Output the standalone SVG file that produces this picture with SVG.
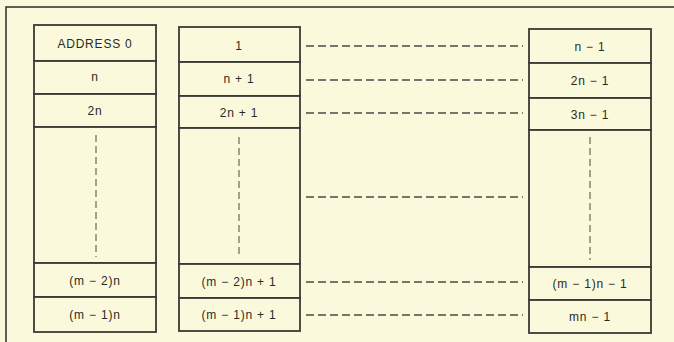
<svg xmlns="http://www.w3.org/2000/svg" width="674" height="342" viewBox="0 0 674 342">
<style>
.bg{fill:#fbf9dc}
.cell{fill:#fbf9dc;stroke:#3a3a36;stroke-width:1.8}
.frame{fill:none;stroke:#3a3a36;stroke-width:1.6}
.vd{stroke:#4a4a44;stroke-width:1;stroke-dasharray:7,4;fill:none}
.hd{stroke:#4a4a44;stroke-width:1.4;stroke-dasharray:8,4;fill:none}
text{font-family:"Liberation Sans",Arial,sans-serif;font-size:12px;letter-spacing:0.8px;fill:#2a2a26;text-anchor:middle}
</style>
<rect class="bg" x="0" y="0" width="674" height="342"/>
<rect class="frame" x="6" y="7" width="680" height="345"/>
<g id="col1">
<rect class="cell" x="34" y="25" width="122" height="36"/>
<text x="95" y="48">ADDRESS 0</text>
<rect class="cell" x="34" y="61" width="122" height="33"/>
<text x="95" y="81">n</text>
<rect class="cell" x="34" y="94" width="122" height="33"/>
<text x="95" y="115">2n</text>
<rect class="cell" x="34" y="127" width="122" height="136"/>
<line class="vd" x1="96" y1="135" x2="96" y2="257"/>
<rect class="cell" x="34" y="263" width="122" height="34"/>
<text x="95" y="285">(m − 2)n</text>
<rect class="cell" x="34" y="297" width="122" height="35"/>
<text x="95" y="319">(m − 1)n</text>
</g>
<g id="col2">
<rect class="cell" x="179" y="27" width="121" height="35"/>
<text x="239" y="50">1</text>
<rect class="cell" x="179" y="62" width="121" height="34"/>
<text x="239" y="83">n + 1</text>
<rect class="cell" x="179" y="96" width="121" height="32"/>
<text x="239" y="117">2n + 1</text>
<rect class="cell" x="179" y="128" width="121" height="136"/>
<line class="vd" x1="239" y1="137" x2="239" y2="258"/>
<rect class="cell" x="179" y="264" width="121" height="34"/>
<text x="239" y="286">(m − 2)n + 1</text>
<rect class="cell" x="179" y="298" width="121" height="33"/>
<text x="239" y="319">(m − 1)n + 1</text>
</g>
<g id="col3">
<rect class="cell" x="529" y="29" width="122" height="34"/>
<text x="590" y="51">n − 1</text>
<rect class="cell" x="529" y="63" width="122" height="35"/>
<text x="590" y="85">2n − 1</text>
<rect class="cell" x="529" y="98" width="122" height="32"/>
<text x="590" y="119">3n − 1</text>
<rect class="cell" x="529" y="130" width="122" height="137"/>
<line class="vd" x1="590" y1="137" x2="590" y2="260"/>
<rect class="cell" x="529" y="267" width="122" height="33"/>
<text x="590" y="288">(m − 1)n − 1</text>
<rect class="cell" x="529" y="300" width="122" height="33"/>
<text x="590" y="321">mn − 1</text>
</g>
<g id="connectors">
<line class="hd" x1="306" y1="46" x2="523" y2="46"/>
<line class="hd" x1="306" y1="80" x2="523" y2="80"/>
<line class="hd" x1="306" y1="113" x2="523" y2="113"/>
<line class="hd" x1="306" y1="197" x2="523" y2="197"/>
<line class="hd" x1="306" y1="282" x2="523" y2="282"/>
<line class="hd" x1="306" y1="315" x2="523" y2="315"/>
</g>
</svg>
